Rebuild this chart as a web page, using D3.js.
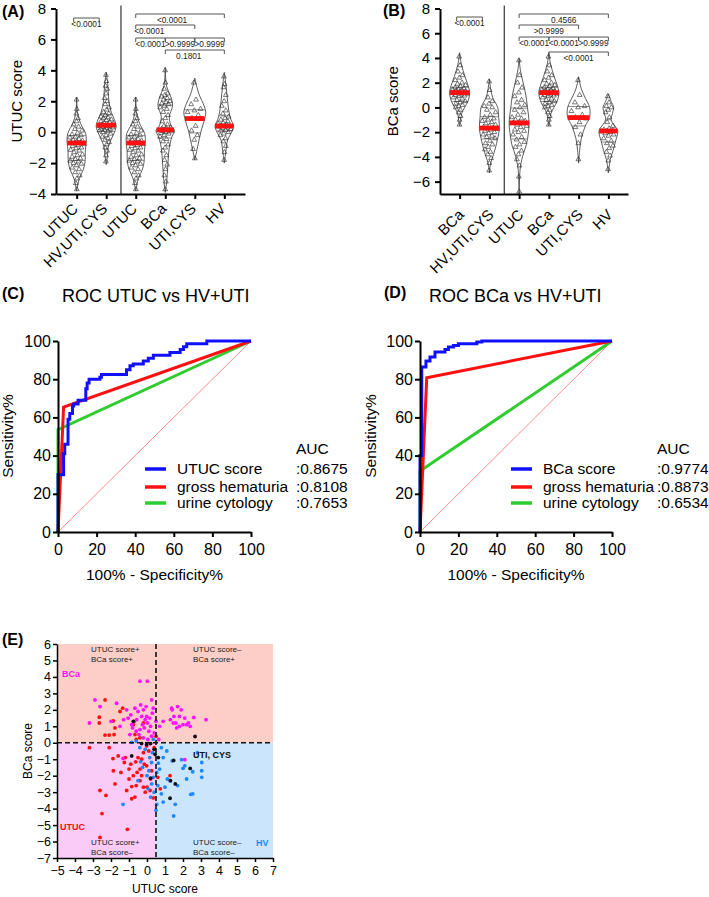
<!DOCTYPE html>
<html><head><meta charset="utf-8">
<script src="https://cdn.jsdelivr.net/npm/d3@7"></script>
<style>body{margin:0;background:#fff}svg{display:block}</style>
</head><body>
<script>
// ================= DATA =================
// Panel A / B categories
const catsA = ["UTUC","HV,UTI,CYS","UTUC","BCa","UTI,CYS","HV"];
const catsB = ["BCa","HV,UTI,CYS","UTUC","BCa","UTI,CYS","HV"];
const yTicksA = [-4,-2,0,2,4,6,8];
const yTicksB = [-6,-4,-2,0,2,4,6,8];

// UTUC score values per group (panel A)
const aUTUC = [2.1,1.5,1.2,0.9,0.7,0.5,0.35,0.2,0.1,-0.05,-0.15,-0.2,-0.3,-0.35,-0.45,-0.5,-0.55,-0.6,-0.65,-0.7,-0.72,-0.78,-0.85,-0.9,-1.0,-1.05,-1.15,-1.2,-1.3,-1.45,-1.5,-1.6,-1.7,-1.75,-1.85,-1.9,-2.0,-2.05,-2.15,-2.3,-2.4,-2.6,-2.8,-3.0,-3.3,-3.7];
const aHVUC = [3.7,3.3,3.0,2.8,2.5,2.2,2.0,1.8,1.6,1.45,1.3,1.2,1.1,1.0,0.95,0.9,0.82,0.78,0.7,0.65,0.6,0.55,0.5,0.48,0.45,0.42,0.4,0.37,0.33,0.3,0.27,0.22,0.2,0.15,0.1,0.05,0.0,-0.1,-0.2,-0.3,-0.4,-0.5,-0.65,-0.8,-1.0,-1.2,-1.5,-1.9];
const aBCa = [4.0,3.2,2.8,2.5,2.4,2.3,2.2,2.1,2.0,1.95,1.85,1.8,1.7,1.6,1.5,1.3,1.1,0.9,0.7,0.5,0.4,0.3,0.25,0.2,0.18,0.15,0.12,0.1,0.07,0.05,0.0,-0.05,-0.1,-0.2,-0.3,-0.45,-0.6,-0.8,-1.0,-1.2,-1.5,-1.8,-2.1,-2.4,-2.8,-3.2,-3.7];
const aUTICYS = [3.2,2.1,1.8,1.5,1.4,1.3,1.1,0.9,0.85,0.4,0.1,-0.2,-0.5,-1.1,-1.7];
const aHV = [3.6,3.1,2.9,2.4,2.0,1.7,1.4,1.2,1.0,0.9,0.8,0.7,0.6,0.55,0.5,0.45,0.4,0.38,0.35,0.3,0.25,0.2,0.15,0.1,0.0,-0.1,-0.2,-0.4,-0.6,-0.9,-1.3,-1.8];
const groupsA = [aUTUC, aHVUC, aUTUC, aBCa, aUTICYS, aHV];
const mediansA = [-0.7, 0.45, -0.7, 0.15, 0.88, 0.4];
// violin outlines: [score, relative half width]
const profA_UTUC = [[2.26,0],[1.2,0.1],[0.55,0.4],[-0.1,0.9],[-0.73,0.95],[-1.15,0.87],[-1.94,0.83],[-2.4,0.67],[-3.0,0.27],[-3.8,0]];
const profA_HVUC = [[3.87,0],[3,0.17],[2,0.27],[1.3,0.5],[0.8,0.83],[0.4,1.0],[0,0.83],[-0.5,0.47],[-1,0.2],[-1.5,0.13],[-2.1,0]];
const profA_BCa = [[4.19,0],[3,0.13],[2.2,0.6],[1.7,0.73],[1.0,0.4],[0.4,0.6],[0.1,0.93],[-0.3,0.67],[-1,0.4],[-2,0.27],[-3,0.17],[-3.9,0]];
const profA_UTICYS = [[3.5,0],[2.5,0.4],[1.7,0.93],[1.3,1.1],[0.9,1.0],[0,0.6],[-0.8,0.33],[-1.8,0]];
const profA_HV = [[3.87,0],[3,0.17],[2,0.33],[1.3,0.47],[0.8,0.67],[0.4,0.93],[0,0.73],[-0.5,0.33],[-1,0.2],[-1.5,0.1],[-2,0]];
const profilesA = [profA_UTUC, profA_HVUC, profA_UTUC, profA_BCa, profA_UTICYS, profA_HV];

// BCa score values per group (panel B)
const bBCa = [4.1,3.4,2.9,2.6,2.4,2.2,2.0,1.9,1.8,1.7,1.6,1.55,1.5,1.45,1.4,1.35,1.3,1.25,1.2,1.2,1.15,1.1,1.05,1.0,0.95,0.9,0.8,0.7,0.6,0.5,0.4,0.3,0.2,0.1,0.0,-0.2,-0.4,-0.7,-1.0,-1.4];
const bHVUC = [2.1,1.4,0.8,0.5,0.3,0.1,0.0,-0.2,-0.4,-0.6,-0.8,-0.9,-1.0,-1.1,-1.2,-1.3,-1.4,-1.5,-1.6,-1.65,-1.7,-1.75,-1.8,-1.9,-2.0,-2.1,-2.2,-2.3,-2.4,-2.5,-2.7,-2.9,-3.0,-3.2,-3.4,-3.6,-3.8,-4.1,-4.5,-5.1];
const bUTUC = [3.8,2.6,2.0,1.6,1.2,0.9,0.6,0.4,0.2,0.0,-0.2,-0.4,-0.6,-0.8,-0.9,-1.0,-1.1,-1.2,-1.25,-1.3,-1.4,-1.5,-1.6,-1.8,-1.9,-2.0,-2.2,-2.4,-2.6,-2.8,-3.0,-3.2,-3.5,-3.8,-4.2,-4.7,-5.6,-6.8];
const bUTICYS = [2.2,1.0,0.4,0.1,0.0,-0.3,-0.6,-0.8,-0.9,-1.2,-1.6,-2.2,-2.9,-4.2];
const bHV = [0.9,0.4,0.1,0.0,-0.2,-0.4,-0.8,-1.2,-1.5,-1.7,-1.8,-1.85,-1.9,-1.95,-2.0,-2.1,-2.2,-2.3,-2.5,-2.7,-2.9,-3.1,-3.3,-3.6,-3.9,-4.3,-5.0];
const groupsB = [bBCa, bHVUC, bUTUC, bBCa, bUTICYS, bHV];
const mediansB = [1.2, -1.67, -1.25, 1.2, -0.82, -1.9];
const profB_BCa = [[4.43,0],[3.5,0.17],[2.5,0.53],[1.8,0.83],[1.2,1.0],[0.5,0.83],[0,0.5],[-0.5,0.2],[-1,0.1],[-1.5,0]];
const profB_HVUC = [[2.3,0],[1.5,0.13],[0.8,0.33],[0,0.83],[-0.8,0.93],[-1.7,1.0],[-2.5,0.83],[-3.3,0.6],[-4,0.33],[-4.5,0.13],[-5.3,0]];
const profB_UTUC = [[3.95,0],[3,0.13],[2,0.4],[1,0.67],[0,0.83],[-1.2,1.0],[-2,0.93],[-3,0.73],[-4,0.33],[-5,0.1],[-7,0]];
const profB_UTICYS = [[2.48,0],[1.5,0.27],[0.5,0.83],[0,1.1],[-0.8,1.1],[-1.5,0.67],[-2.5,0.27],[-3.5,0.1],[-4.5,0]];
const profB_HV = [[1.1,0],[0.5,0.27],[0,0.53],[-0.5,0.4],[-1,0.27],[-1.9,0.93],[-2.7,0.73],[-3.5,0.47],[-4.2,0.2],[-5.3,0]];
const profilesB = [profB_BCa, profB_HVUC, profB_UTUC, profB_BCa, profB_UTICYS, profB_HV];

// significance comparisons
const sigPairsA = [[0,1],[2,5],[2,4],[2,3],[3,4],[4,5],[3,5]];
const sigLabelsA = ["<0.0001","<0.0001","<0.0001","<0.0001",">0.9999",">0.9999","0.1801"];
const sigPairsB = [[0,1],[2,5],[2,4],[2,3],[3,4],[4,5],[3,5]];
const sigLabelsB = ["<0.0001","0.4566",">0.9999","<0.0001","<0.0001",">0.9999","<0.0001"];

// ROC curves (x = 100% - specificity%, y = sensitivity%)
const rocC_utucX = [0,0,2.9,3.5,5.2,6.1,7.5,8.1,10.4,14.4,15.1,16.1,21.7,22.5,35.5,37.3,39,44.2,46.8,49.4,58,63.3,65,66.7,77.1,100];
const rocC_utucY = [0,30,41,46,59,62,66,67,69,75,78,80,81,82.5,85,87,88,89.5,91,92.5,94,95.5,97,98.5,100,100];
const rocC_ghX = [0,2.9,100], rocC_ghY = [0,65.4,100];
const rocC_cytX = [0,0,100], rocC_cytY = [0,53.6,100];
const rocD_bcaX = [0,0,0.9,3.1,5.2,7.8,13,14.8,17.4,20,29.6,32.2,100];
const rocD_bcaY = [0,40,86.4,89.5,91.6,94.2,95.5,96.9,97.7,98.6,99.5,100,100];
const rocD_ghX = [0,3.5,100], rocD_ghY = [0,80.8,100];
const rocD_cytX = [0,0,100], rocD_cytY = [0,31.9,100];
const legendC = ["UTUC score","gross hematuria","urine cytology"];
const aucC = [":0.8675",":0.8108",":0.7653"];
const legendD = ["BCa score","gross hematuria","urine cytology"];
const aucD = [":0.9774",":0.8873",":0.6534"];
const rocTicks = [0,20,40,60,80,100];

// Panel E scatter [UTUC score, BCa score]
const ptsUTUC = [[-2.33,2.6],[-2.65,1.55],[-2.65,1.2],[-1.87,1.33],[-1.78,0.9],[-1.35,2.1],[-1.5,1.9],[-2.33,0.47],[-2.1,0.47],[-3.2,-0.3],[-0.76,1.1],[-0.67,0.5],[-0.4,0.3],[-0.2,1.2],[-0.6,0.2],[-0.02,-0.2],[-1.89,-0.96],[-1.6,-0.8],[-1.26,-1.2],[-0.9,-1.3],[-0.63,-1.16],[-1.87,-1.7],[-1.78,-2.5],[-2.61,-2.9],[-2.28,-3.2],[-2.5,-4.3],[-1.09,-5.26],[-2.61,-5.75],[-1.13,-2.9],[-0.85,-3.4],[-0.67,-3.3],[-0.85,-2.66],[-0.6,-2.6],[-0.39,-2.3],[-0.2,-2.7],[0.0,-2.7],[0.17,-2.9],[0.35,-3.35],[-1.0,-2.2],[-0.76,-2.0],[-0.39,-1.6],[-0.02,-1.4],[0.26,-1.7],[0.74,-2.8],[1.28,-2.0],[-1.2,-0.9],[-0.5,-0.9],[-0.3,-1.0],[0.1,-0.5],[-1.0,-1.6],[-0.3,-2.0],[0.2,-2.2],[-0.1,-3.0],[0.4,-0.3],[0.6,-2.1],[-1.45,-1.8],[-0.55,-1.8],[-0.2,-0.6],[-1.83,0.5],[-2.1,-0.3],[0.5,0.4],[-0.15,-1.3]];
const ptsHV = [[-1.33,-3.74],[0.63,-1.24],[0.54,-1.8],[0.7,-1.6],[1.13,-2.2],[1.3,-2.3],[2.0,-1.55],[1.92,-1.03],[2.1,-1.4],[2.43,-3.13],[1.57,-3.74],[1.48,-4.45],[0.54,-3.74],[0.0,-2.0],[0.06,-2.8],[0.26,-2.5],[-0.35,-1.16],[-0.25,-1.5],[0.1,-1.7],[0.35,-2.1],[3.04,-1.2],[3.04,-1.7],[3.04,-2.1],[2.54,-3.1],[2.54,-1.76],[-0.85,0.03],[-0.4,-0.3],[0.35,0.22],[0.8,-0.3],[0.3,-0.6],[-0.1,-0.4],[0.9,-0.9],[1.0,-2.7],[0.8,-3.1],[0.4,-3.0],[0.2,-3.3],[0.5,-4.1],[1.7,-2.6],[2.2,-2.2],[1.4,-1.1],[0.25,-1.2],[-0.5,-2.3],[0.6,-2.6],[0.15,-0.9],[1.1,-0.5],[-0.6,0.1],[0.9,-3.6],[2.8,-0.6]];
const ptsBCa = [[-0.39,3.74],[0.02,3.74],[-2.89,2.6],[-2.61,2.2],[-1.69,2.4],[0.26,2.6],[-3.2,1.2],[-1.13,2.0],[-0.67,2.1],[-0.2,2.0],[-0.02,1.6],[-0.85,1.1],[-0.57,1.4],[-0.39,0.8],[0.02,1.2],[0.3,1.8],[0.5,1.3],[-1.3,1.4],[-1.05,1.5],[-0.9,1.7],[-0.5,1.9],[-0.3,1.6],[-0.1,1.4],[0.15,1.5],[0.2,1.0],[-0.15,0.9],[-0.6,0.7],[-0.8,0.9],[-0.25,1.1],[0.1,0.7],[-0.45,0.5],[0.25,0.4],[-0.7,1.3],[-0.05,2.2],[-0.35,2.3],[0.35,2.1],[-1.5,1.0],[-2.0,1.3],[-0.95,0.5],[-0.2,0.3],[0.4,0.6],[0.05,0.2],[1.37,2.1],[1.4,2.0],[1.7,2.2],[1.5,1.6],[1.9,2.0],[1.8,1.6],[2.4,1.0],[1.46,1.2],[1.6,1.2],[1.8,1.0],[2.0,1.1],[2.2,1.1],[2.6,1.54],[3.28,1.4],[1.3,1.4],[2.1,1.5],[1.65,0.9],[2.3,1.2],[0.9,1.3],[0.7,1.0],[0.65,0.2],[-1.33,-0.95],[2.1,-1.03]];
const ptsUTICYS = [[-0.76,1.3],[2.67,0.38],[-0.85,-0.8],[-0.02,-0.1],[0.2,-0.05],[1.48,-1.07],[1.57,-2.5],[1.28,-3.37],[2.4,-1.56],[0.63,-0.9],[0.4,-0.4],[0.2,-2.15],[1.3,-2.3],[-0.3,-0.05],[0.45,-0.7]];
const cutUTUC = 0.5, cutBCa = 0;
const ticksEx = [-5,-4,-3,-2,-1,0,1,2,3,4,5,6,7];
const ticksEy = [-7,-6,-5,-4,-3,-2,-1,0,1,2,3,4,5,6];

// ================= DRAWING =================
const FONT = "'Liberation Sans', Arial, Helvetica, sans-serif";
const svg = d3.select("body").append("svg").attr("width",709).attr("height",897)
  .attr("font-family", FONT);

function styleAxis(g, w) {
  g.select(".domain").attr("stroke","#000").attr("stroke-width",w);
  g.selectAll(".tick line").attr("stroke","#000").attr("stroke-width",w);
  g.selectAll(".tick text").attr("fill","#000");
}
function tag(x, y, t) {
  svg.append("text").attr("x",x).attr("y",y).attr("font-size",16).attr("font-weight","bold").text(t);
}

const W = 10;
const tri = d3.symbol(d3.symbolTriangle, 10)();

function violinPanel(o) {
  const g = svg.append("g");
  const x = d3.scalePoint().domain(d3.range(o.cats.length)).range([o.x0, o.x1]).padding(o.pad);
  const y = d3.scaleLinear().domain(o.domain).range([o.yBot, o.yTop]);
  // divider
  const dx = (x(1) + x(2)) / 2;
  g.append("line").attr("x1",dx).attr("x2",dx).attr("y1",o.yTop-3).attr("y2",o.yBot)
    .attr("stroke","#222").attr("stroke-width",1.1);
  // violins
  o.groups.forEach((vals, i) => {
    const cx = x(i), prof = o.profiles[i];
    const hw = d3.scaleLinear().domain(prof.map(d=>d[0])).range(prof.map(d=>d[1]*W)).clamp(true);
    const area = d3.area().curve(d3.curveCatmullRom.alpha(0.5))
      .y(d=>y(d[0])).x0(d=>cx-d[1]*W).x1(d=>cx+d[1]*W);
    g.append("path").attr("d",area(prof)).attr("fill","#fff").attr("stroke","#333").attr("stroke-width",0.8);
    const sorted = vals.slice().sort(d3.ascending);
    [0.25,0.75].forEach(q => {
      const v = d3.quantile(sorted,q), w = hw(v);
      g.append("line").attr("x1",cx-w).attr("x2",cx+w).attr("y1",y(v)).attr("y2",y(v))
        .attr("stroke","#444").attr("stroke-width",0.6);
    });
    vals.forEach((v,j) => {
      const f = ((j*0.6180339887) % 1) * 2 - 1;
      g.append("path").attr("d",tri)
        .attr("transform",`translate(${cx + f*hw(v)*0.8},${y(v)})`)
        .attr("fill","none").attr("stroke","#333").attr("stroke-width",0.65);
    });
    const m = o.medians[i], w = Math.max(hw(m), 3);
    g.append("rect").attr("x",cx-w).attr("width",2*w).attr("y",y(m)-2.4).attr("height",4.8).attr("fill","#ff1010");
  });
  // axes
  const ya = g.append("g").attr("transform",`translate(${o.x0},0)`)
    .call(d3.axisLeft(y).tickValues(o.yTicks).tickSize(5).tickSizeOuter(0).tickPadding(5))
    .attr("font-size",15).attr("font-family",FONT);
  styleAxis(ya, 2);
  const xa = g.append("g").attr("transform",`translate(0,${o.yBot})`)
    .call(d3.axisBottom(x).tickFormat(i=>o.cats[i]).tickSize(5).tickSizeOuter(0))
    .attr("font-size",15).attr("font-family",FONT);
  styleAxis(xa, 2);
  xa.selectAll(".tick text").attr("text-anchor","end").attr("x",0).attr("y",0).attr("dy","0.35em")
    .attr("transform",`translate(${o.lblDx},${o.lblDy}) rotate(-45)`);
  // y label
  g.append("text").attr("transform",`translate(${o.yLabX},${(o.yTop+o.yBot)/2}) rotate(-90)`)
    .attr("text-anchor","middle").attr("font-size",15).text(o.yLabel);
  // significance brackets
  o.pairs.forEach((p, k) => {
    const ly = o.rows[k];
    const xa1 = x(p[0]) + o.inset[k][0], xa2 = x(p[1]) + o.inset[k][1];
    g.append("path").attr("d",`M${xa1},${ly+4}V${ly}H${xa2}V${ly+4}`)
      .attr("fill","none").attr("stroke","#555").attr("stroke-width",1);
    g.append("text").attr("x",(xa1+xa2)/2 + o.txtDx[k]).attr("y",ly+8.5).attr("text-anchor","middle")
      .attr("font-size",8.3).attr("fill","#222").text(o.labels[k]);
  });
}

violinPanel({cats:catsA, x0:56, x1:245, pad:0.7, domain:[-4,8], yTop:8.5, yBot:194,
  groups:groupsA, profiles:profilesA, medians:mediansA, yTicks:yTicksA,
  lblDx:-2, lblDy:12, yLabel:"UTUC score", yLabX:22,
  pairs:sigPairsA, labels:sigLabelsA, rows:[18,14,25,38,38,38,50],
  inset:[[-3,-7],[0,0],[0,0],[0,0],[0,0],[0,0],[0,0]], txtDx:[0,-8,-16,0,0,0,-6]});
violinPanel({cats:catsB, x0:440, x1:628, pad:0.66, domain:[-7,8], yTop:8.5, yBot:194,
  groups:groupsB, profiles:profilesB, medians:mediansB, yTicks:yTicksB,
  lblDx:1, lblDy:18, yLabel:"BCa score", yLabX:398,
  pairs:sigPairsB, labels:sigLabelsB, rows:[17,14,25,37,37,37,52],
  inset:[[-3,-7],[0,0],[0,0],[0,0],[0,0],[0,0],[0,0]], txtDx:[0,0,0,0,0,0,0]});
tag(2,17,"(A)");
tag(383,16,"(B)");

// ROC panels
function rocPanel(o) {
  const g = svg.append("g");
  const x = d3.scaleLinear().domain([0,100]).range([o.x0,o.x1]);
  const y = d3.scaleLinear().domain([0,100]).range([532,341]);
  g.append("line").attr("x1",x(0)).attr("y1",y(0)).attr("x2",x(100)).attr("y2",y(100))
    .attr("stroke","#ff5a5a").attr("stroke-width",0.7);
  const colors = ["#1010ff","#ff1010","#2ecc2e"];
  const order = [2,1,0];
  order.forEach(k => {
    const s = o.series[k];
    const line = d3.line().x(d=>x(d[0])).y(d=>y(d[1])).curve(k===0 ? d3.curveStepAfter : d3.curveLinear);
    g.append("path").attr("d",line(d3.zip(s[0],s[1]))).attr("fill","none")
      .attr("stroke",colors[k]).attr("stroke-width",3);
  });
  const xa = g.append("g").attr("transform","translate(0,532)")
    .call(d3.axisBottom(x).tickValues(rocTicks).tickSize(5).tickSizeOuter(0).tickPadding(6.5))
    .attr("font-size",16).attr("font-family",FONT);
  styleAxis(xa, 2);
  const ya = g.append("g").attr("transform",`translate(${o.x0},0)`)
    .call(d3.axisLeft(y).tickValues(rocTicks).tickSize(5).tickSizeOuter(0).tickPadding(2))
    .attr("font-size",16).attr("font-family",FONT);
  styleAxis(ya, 2);
  g.append("text").attr("x",(o.x0+o.x1)/2).attr("y",580).attr("text-anchor","middle")
    .attr("font-size",15.5).text("100% - Specificity%");
  g.append("text").attr("transform",`translate(${o.yLabX},436) rotate(-90)`).attr("text-anchor","middle")
    .attr("font-size",15.5).text("Sensitivity%");
  g.append("text").attr("x",o.titleX).attr("y",302).attr("font-size",18).text(o.title);
  g.append("text").attr("x",o.aucX).attr("y",454).attr("font-size",15.5).text("AUC");
  const ly = [469,487,503];
  o.names.forEach((n,k) => {
    g.append("line").attr("x1",o.legX).attr("x2",o.legX+21).attr("y1",ly[k]).attr("y2",ly[k])
      .attr("stroke",colors[k]).attr("stroke-width",3.5);
    g.append("text").attr("x",o.legX+32).attr("y",ly[k]+5).attr("font-size",15.5).text(n);
    g.append("text").attr("x",o.aucX).attr("y",ly[k]+5).attr("font-size",15.5).text(o.aucs[k]);
  });
}
rocPanel({x0:58, x1:251, series:[[rocC_utucX,rocC_utucY],[rocC_ghX,rocC_ghY],[rocC_cytX,rocC_cytY]],
  names:legendC, aucs:aucC, legX:145, aucX:296, yLabX:13, titleX:62, title:"ROC UTUC vs HV+UTI"});
rocPanel({x0:420, x1:612, series:[[rocD_bcaX,rocD_bcaY],[rocD_ghX,rocD_ghY],[rocD_cytX,rocD_cytY]],
  names:legendD, aucs:aucD, legX:511, aucX:657, yLabX:376, titleX:429, title:"ROC BCa vs HV+UTI"});
tag(2,299,"(C)");
tag(384,298,"(D)");

// Panel E
(function(){
  const g = svg.append("g");
  const x = d3.scaleLinear().domain([-5,7]).range([57,273]);
  const y = d3.scaleLinear().domain([-7,6]).range([858,644]);
  g.append("rect").attr("x",x(-5)).attr("y",y(6)).attr("width",x(7)-x(-5)).attr("height",y(cutBCa)-y(6)).attr("fill","#fdcec7");
  g.append("rect").attr("x",x(-5)).attr("y",y(cutBCa)).attr("width",x(cutUTUC)-x(-5)).attr("height",y(-7)-y(cutBCa)).attr("fill","#fbcbf8");
  g.append("rect").attr("x",x(cutUTUC)).attr("y",y(cutBCa)).attr("width",x(7)-x(cutUTUC)).attr("height",y(-7)-y(cutBCa)).attr("fill","#cbe5fc");
  const sets = [[ptsUTUC,"#ff1010"],[ptsHV,"#1e88ff"],[ptsBCa,"#ff10ff"],[ptsUTICYS,"#111"]];
  sets.forEach(([pts,c]) => {
    g.selectAll(null).data(pts).enter().append("circle")
      .attr("cx",d=>x(d[0])).attr("cy",d=>y(d[1])).attr("r",1.9).attr("fill",c);
  });
  g.append("line").attr("x1",x(cutUTUC)).attr("x2",x(cutUTUC)).attr("y1",y(6)).attr("y2",y(-7))
    .attr("stroke","#111").attr("stroke-width",1.6).attr("stroke-dasharray","5,3");
  g.append("line").attr("x1",x(-5)).attr("x2",x(7)).attr("y1",y(cutBCa)).attr("y2",y(cutBCa))
    .attr("stroke","#111").attr("stroke-width",1.6).attr("stroke-dasharray","5,3");
  const q = (tx, ty, lines) => lines.forEach((l,i) => g.append("text").attr("x",tx).attr("y",ty+i*9.5)
      .attr("font-size",8).attr("fill","#222").text(l));
  q(91,652,["UTUC score+","BCa score+"]);
  q(193,652,["UTUC score\u2013","BCa score+"]);
  q(91,845,["UTUC score+","BCa score\u2013"]);
  q(193,845,["UTUC score\u2013","BCa score\u2013"]);
  const lab = (tx,ty,t,c) => g.append("text").attr("x",tx).attr("y",ty).attr("font-size",9)
      .attr("font-weight","bold").attr("fill",c).text(t);
  lab(62,677,"BCa","#ff10ff");
  lab(60,830,"UTUC","#ff1010");
  lab(256,846,"HV","#1e88ff");
  lab(193,758,"UTI, CYS","#111");
  const xa = g.append("g").attr("transform","translate(0,858)")
    .call(d3.axisBottom(x).tickValues(ticksEx).tickSize(4).tickSizeOuter(0).tickPadding(4))
    .attr("font-size",12.5).attr("font-family",FONT);
  styleAxis(xa, 1.5);
  const ya = g.append("g").attr("transform","translate(57,0)")
    .call(d3.axisLeft(y).tickValues(ticksEy).tickSize(4).tickSizeOuter(0).tickPadding(2))
    .attr("font-size",12.5).attr("font-family",FONT);
  styleAxis(ya, 1.5);
  g.append("text").attr("x",165).attr("y",893).attr("text-anchor","middle").attr("font-size",12).text("UTUC score");
  g.append("text").attr("transform","translate(32,751) rotate(-90)").attr("text-anchor","middle").attr("font-size",12).text("BCa score");
})();
tag(2,645,"(E)");
</script>
</body></html>
